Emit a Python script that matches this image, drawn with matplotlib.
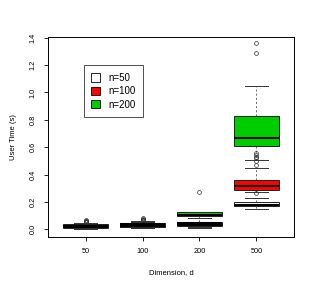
import matplotlib
matplotlib.use("Agg")
import matplotlib.pyplot as plt
from matplotlib.patches import Patch

dims = ["50", "100", "200", "500"]
groups = ["n=50", "n=100", "n=200"]
colors = ["white", "#FF0000", "#00CD00"]

# per group, per dimension: (whislo, q1, med, q3, whishi)
n50_stats = [(0.005, 0.010, 0.018, 0.028, 0.040),
             (0.008, 0.015, 0.022, 0.032, 0.045),
             (0.012, 0.022, 0.030, 0.040, 0.055),
             (0.146, 0.168, 0.180, 0.197, 0.230)]
n100_stats = [(0.008, 0.014, 0.022, 0.032, 0.042),
              (0.010, 0.020, 0.028, 0.040, 0.055),
              (0.020, 0.035, 0.045, 0.055, 0.080),
              (0.270, 0.290, 0.318, 0.358, 0.445)]
n200_stats = [(0.010, 0.018, 0.026, 0.036, 0.045),
              (0.018, 0.030, 0.040, 0.048, 0.060),
              (0.085, 0.095, 0.104, 0.124, 0.130),
              (0.510, 0.606, 0.664, 0.825, 1.044)]

n50_fliers = [[0.050, 0.060, 0.068], [0.060, 0.070], [], [0.262]]
n100_fliers = [[0.052, 0.058], [0.065, 0.075, 0.080], [], [0.47, 0.50, 0.52, 0.53, 0.545, 0.555]]
n200_fliers = [[0.055], [0.068], [0.270], [1.285, 1.358]]

all_stats = [n50_stats, n100_stats, n200_stats]
all_fliers = [n50_fliers, n100_fliers, n200_fliers]

plt.rcParams['font.family'] = ['Liberation Sans', 'DejaVu Sans']

fig = plt.figure(figsize=(3.32, 2.85), dpi=100)
ax = fig.add_axes([0.1446, 0.1684, 0.741, 0.7016])

for stats, fliers, col in zip(all_stats, all_fliers, colors):
    bxp_stats = []
    for (lo, q1, med, q3, hi), fl in zip(stats, fliers):
        bxp_stats.append(dict(whislo=lo, q1=q1, med=med, q3=q3, whishi=hi, fliers=fl))
    ax.bxp(bxp_stats, positions=[1, 2, 3, 4], widths=0.8, capwidths=0.4,
           patch_artist=True, manage_ticks=False,
           boxprops=dict(facecolor=col, edgecolor="#222222", linewidth=0.7),
           medianprops=dict(color="black", linewidth=1.5, solid_capstyle="butt"),
           whiskerprops=dict(color="#333333", linewidth=0.5, linestyle=(0, (3, 3))),
           capprops=dict(color="#333333", linewidth=0.7),
           flierprops=dict(marker="o", markersize=2.8, markerfacecolor="none",
                           markeredgecolor="#333333", markeredgewidth=0.5))

ax.set_xlim(0.34, 4.66)
ax.set_ylim(-0.056, 1.405)
ax.set_xticks([1, 2, 3, 4])
ax.set_xticklabels(dims)
ax.set_yticks([0.0, 0.2, 0.4, 0.6, 0.8, 1.0, 1.2, 1.4])
ax.set_yticklabels(["0.0", "0.2", "0.4", "0.6", "0.8", "1.0", "1.2", "1.4"],
                   rotation=90, va="center")
ax.tick_params(labelsize=5.3, length=3, width=0.6, pad=5)
for s in ax.spines.values():
    s.set_linewidth(0.7)
ax.set_xlabel("Dimension, d", fontsize=5.5, labelpad=10)
ax.set_ylabel("User Time (s)", fontsize=5.5, labelpad=9)

handles = [Patch(facecolor=c, edgecolor="black", linewidth=0.6) for c in colors]
leg = ax.legend(handles, groups, loc="upper left", bbox_to_anchor=(0.145, 0.86),
                fontsize=7, frameon=True, fancybox=False, handlelength=0.9,
                handleheight=0.9, handletextpad=0.8, borderpad=0.8,
                labelspacing=0.35, borderaxespad=0)
leg.get_frame().set_edgecolor("black")
leg.get_frame().set_linewidth(0.6)

fig.savefig("out.png", dpi=100)
